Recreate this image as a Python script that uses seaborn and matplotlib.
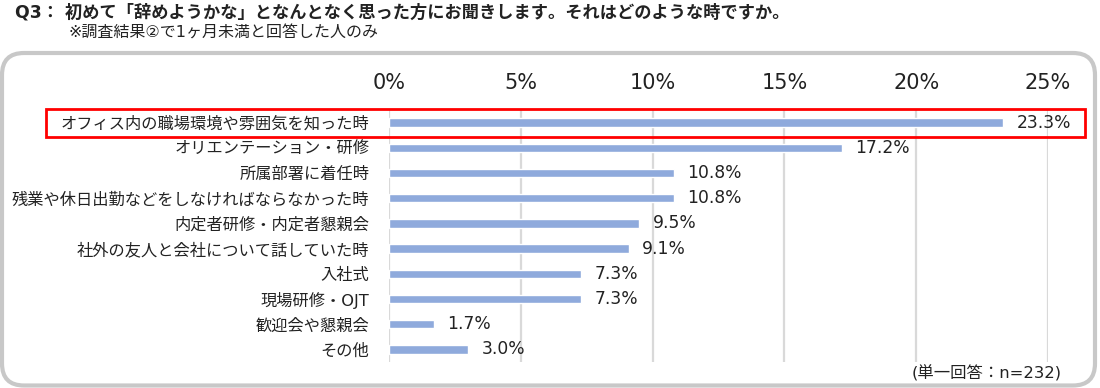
import pandas as pd
import matplotlib.pyplot as plt
import seaborn as sns
from matplotlib.patches import FancyBboxPatch, Rectangle
from matplotlib.ticker import FuncFormatter

# Data
categories = [
    "オフィス内の職場環境や雰囲気を知った時",
    "オリエンテーション・研修",
    "所属部署に着任時",
    "残業や休日出勤などをしなければならなかった時",
    "内定者研修・内定者懇親会",
    "社外の友人と会社について話していた時",
    "入社式",
    "現場研修・OJT",
    "歓迎会や懇親会",
    "その他",
]
values = [23.3, 17.2, 10.8, 10.8, 9.5, 9.1, 7.3, 7.3, 1.7, 3.0]
x_ticks = [0, 5, 10, 15, 20, 25]

title = "Q3： 初めて「辞めようかな」となんとなく思った方にお聞きします。それはどのような時ですか。"
subtitle = "※調査結果②で1ヶ月未満と回答した人のみ"
note = "(単一回答：n=232)"

sns.set_style("white")
plt.rcParams["font.family"] = ["DejaVu Sans", "Noto Sans CJK JP"]

df = pd.DataFrame({"category": categories, "value": values})

W, H = 1100, 388
fig = plt.figure(figsize=(W / 100, H / 100), dpi=100)
ax = fig.add_axes([389 / W, 1 - 362 / H, (1048 - 389) / W, (362 - 110) / H])

sns.barplot(data=df, x="value", y="category", orient="h", color="#8FAADC",
            saturation=1, width=0.33, ax=ax, zorder=3)

ax.set_xlim(0, 25)
ax.set_ylim(len(categories) - 0.5, -0.5)
ax.set_xticks(x_ticks)
ax.xaxis.set_major_formatter(FuncFormatter(lambda v, p: f"{v:.0f}%"))
ax.xaxis.tick_top()
ax.tick_params(axis="x", length=0, pad=12, labelsize=15, labelcolor="#222222")
ax.tick_params(axis="y", length=0, pad=14, labelsize=11.7, labelcolor="#222222")
ax.grid(axis="x", color="#D9D9D9", linewidth=1.6, zorder=0)
for s in ax.spines.values():
    s.set_visible(False)
ax.set_xlabel("")
ax.set_ylabel("")

# Value labels
for i, v in enumerate(values):
    ax.annotate(f"{v:.1f}%", (v, i), xytext=(9.5, 0), textcoords="offset points",
                va="center", ha="left", fontsize=12.3, color="#222222", clip_on=False)

# Outer rounded frame
frame = FancyBboxPatch((2 / W, 1 - 385.5 / H), 1093 / W, 332.5 / H,
                       boxstyle="round,pad=0,rounding_size=0.02",
                       transform=fig.transFigure, fill=False,
                       edgecolor="#C8C8C8", linewidth=3, mutation_aspect=W / H)
fig.patches.append(frame)

# Highlight box around the first item
hl = Rectangle((46 / W, 1 - 137.3 / H), (1085 - 46) / W, 28 / H,
               transform=fig.transFigure, fill=False, edgecolor="#FF0000", linewidth=2)
fig.patches.append(hl)

fig.text(15 / W, 1 - 13 / H, title, fontsize=12.4, fontweight="bold",
         va="center", ha="left", color="#222222")
fig.text(68 / W, 1 - 33 / H, subtitle, fontsize=11.5,
         va="center", ha="left", color="#222222")
fig.text(1062 / W, 1 - 373 / H, note, fontsize=11.8,
         va="center", ha="right", color="#222222")

fig.savefig("out.png", dpi=100)
